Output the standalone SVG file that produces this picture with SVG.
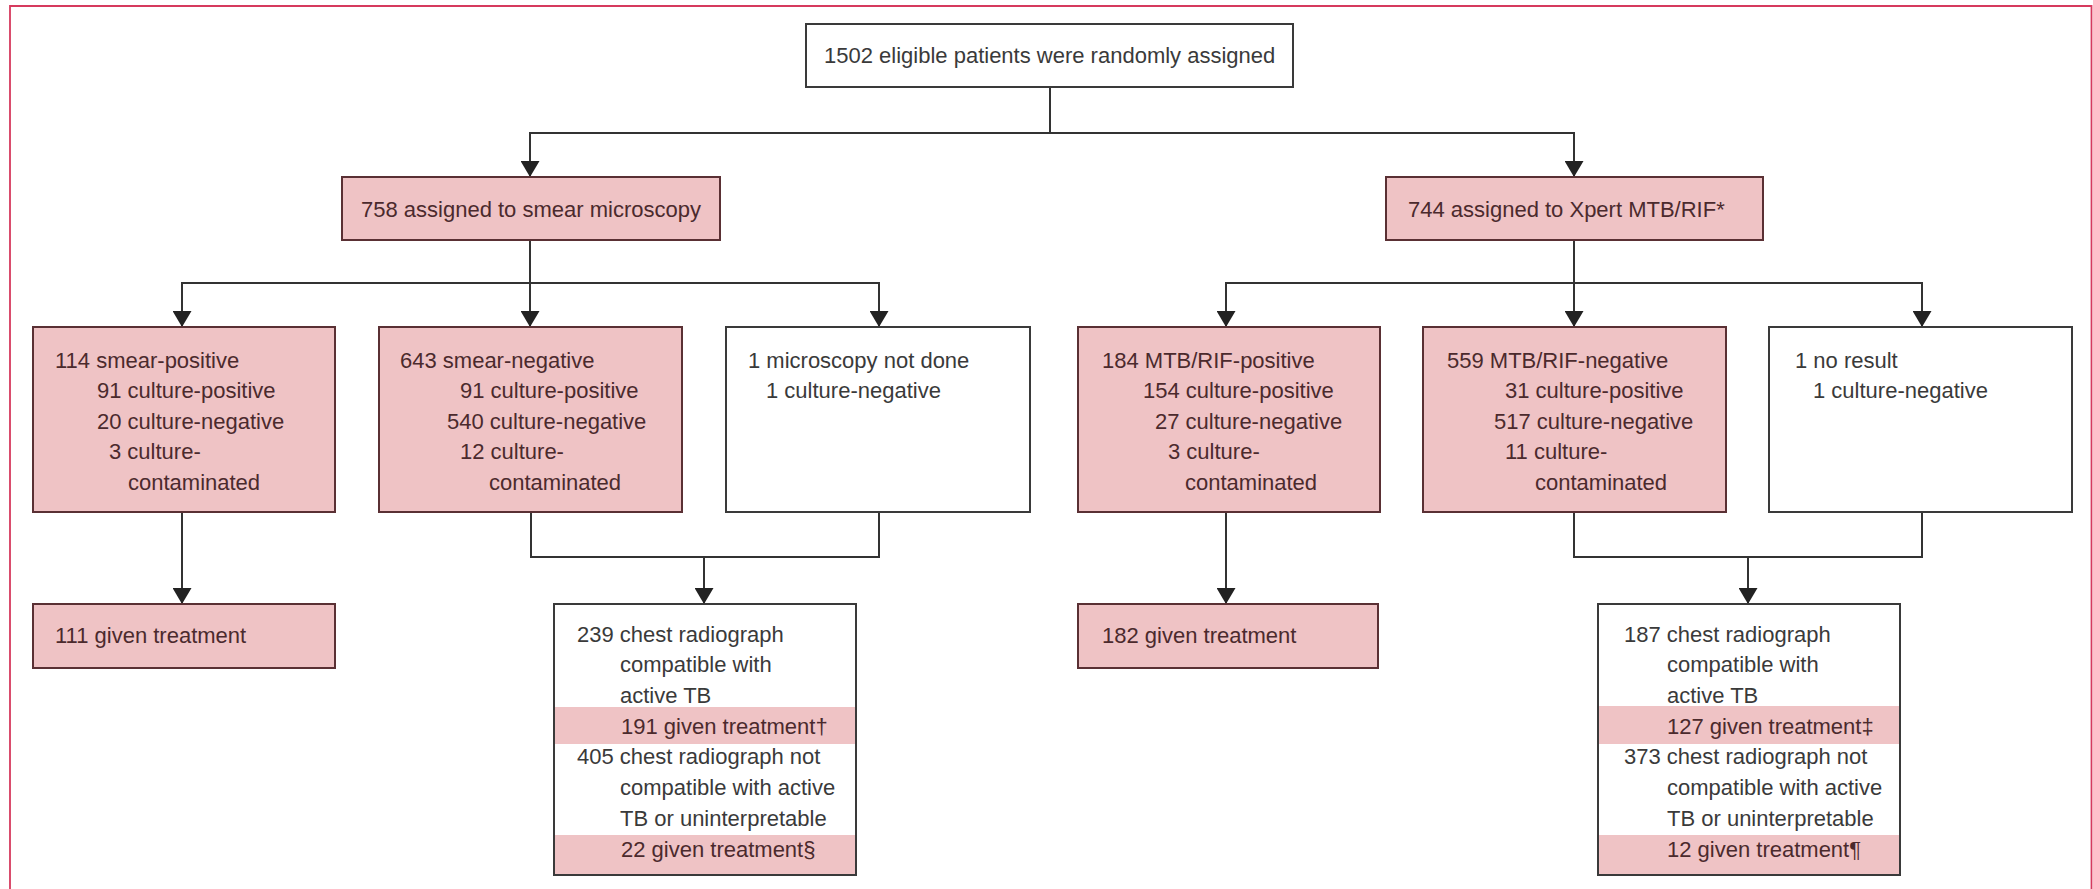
<svg xmlns="http://www.w3.org/2000/svg" width="2093" height="889" viewBox="0 0 2093 889">
<style>
  .frame { fill: none; stroke: #d63a5e; stroke-width: 1.8; }
  .box-w { fill: #ffffff; stroke: #3a3a3a; stroke-width: 2; }
  .box-p { fill: #efc3c5; stroke: #5a3034; stroke-width: 2; }
  .band { fill: #efc3c5; }
  .conn path { fill: none; stroke: #333333; stroke-width: 2; }
  text { font-family: "Liberation Sans", Arial, sans-serif; font-size: 22px; }
  .tw { fill: #3a3a3a; }
  .tp { fill: #4b2a2d; }
</style>
<defs>
  <marker id="arrow" viewBox="0 0 16 19" refX="16" refY="9.5" markerWidth="16" markerHeight="19" markerUnits="userSpaceOnUse" orient="auto">
    <path d="M0,0 L16,9.5 L0,19 z" fill="#222222"/>
  </marker>
</defs>
<rect width="2093" height="889" fill="#ffffff"/>
<path class="frame" d="M10,900 V6 H2091.5 V900"/>

<g id="connectors" class="conn">
  <path d="M1050,87 V133"/>
  <path d="M1050,133 H530 V177" marker-end="url(#arrow)"/>
  <path d="M1050,133 H1574 V177" marker-end="url(#arrow)"/>
  <path d="M530,240 V327" marker-end="url(#arrow)"/>
  <path d="M530,283 H182 V327" marker-end="url(#arrow)"/>
  <path d="M530,283 H879 V327" marker-end="url(#arrow)"/>
  <path d="M1574,240 V327" marker-end="url(#arrow)"/>
  <path d="M1574,283 H1226 V327" marker-end="url(#arrow)"/>
  <path d="M1574,283 H1922 V327" marker-end="url(#arrow)"/>
  <path d="M182,512 V604" marker-end="url(#arrow)"/>
  <path d="M1226,512 V604" marker-end="url(#arrow)"/>
  <path d="M531,512 V557 H879 V512"/>
  <path d="M704,557 V604" marker-end="url(#arrow)"/>
  <path d="M1574,512 V557 H1922 V512"/>
  <path d="M1748,557 V604" marker-end="url(#arrow)"/>
</g>

<g id="node-randomised">
  <rect class="box-w" x="806" y="24" width="487" height="63"/>
  <text class="tw" x="824" y="63">1502 eligible patients were randomly assigned</text>
</g>

<g id="node-smear">
  <rect class="box-p" x="342" y="177" width="378" height="63"/>
  <text class="tp" x="361" y="217">758 assigned to smear microscopy</text>
</g>

<g id="node-xpert">
  <rect class="box-p" x="1386" y="177" width="377" height="63"/>
  <text class="tp" x="1408" y="217">744 assigned to Xpert MTB/RIF*</text>
</g>

<g id="node-smear-positive">
  <rect class="box-p" x="33" y="327" width="302" height="185"/>
  <text class="tp" x="55" y="368">114 smear-positive</text>
  <text class="tp" x="97" y="398">91 culture-positive</text>
  <text class="tp" x="97" y="429">20 culture-negative</text>
  <text class="tp" x="109" y="459">3 culture-</text>
  <text class="tp" x="128" y="490">contaminated</text>
</g>

<g id="node-smear-negative">
  <rect class="box-p" x="379" y="327" width="303" height="185"/>
  <text class="tp" x="400" y="368">643 smear-negative</text>
  <text class="tp" x="460" y="398">91 culture-positive</text>
  <text class="tp" x="447" y="429">540 culture-negative</text>
  <text class="tp" x="460" y="459">12 culture-</text>
  <text class="tp" x="489" y="490">contaminated</text>
</g>

<g id="node-microscopy-not-done">
  <rect class="box-w" x="726" y="327" width="304" height="185"/>
  <text class="tw" x="748" y="368">1 microscopy not done</text>
  <text class="tw" x="766" y="398">1 culture-negative</text>
</g>

<g id="node-mtb-positive">
  <rect class="box-p" x="1078" y="327" width="302" height="185"/>
  <text class="tp" x="1102" y="368">184 MTB/RIF-positive</text>
  <text class="tp" x="1143" y="398">154 culture-positive</text>
  <text class="tp" x="1155" y="429">27 culture-negative</text>
  <text class="tp" x="1168" y="459">3 culture-</text>
  <text class="tp" x="1185" y="490">contaminated</text>
</g>

<g id="node-mtb-negative">
  <rect class="box-p" x="1423" y="327" width="303" height="185"/>
  <text class="tp" x="1447" y="368">559 MTB/RIF-negative</text>
  <text class="tp" x="1505" y="398">31 culture-positive</text>
  <text class="tp" x="1494" y="429">517 culture-negative</text>
  <text class="tp" x="1505" y="459">11 culture-</text>
  <text class="tp" x="1535" y="490">contaminated</text>
</g>

<g id="node-no-result">
  <rect class="box-w" x="1769" y="327" width="303" height="185"/>
  <text class="tw" x="1795" y="368">1 no result</text>
  <text class="tw" x="1813" y="398">1 culture-negative</text>
</g>

<g id="node-treated-111">
  <rect class="box-p" x="33" y="604" width="302" height="64"/>
  <text class="tp" x="55" y="643">111 given treatment</text>
</g>

<g id="node-cxr-smear">
  <rect class="band" x="554" y="707" width="302" height="37"/>
  <rect class="band" x="554" y="835" width="302" height="40"/>
  <rect class="box-w" x="554" y="604" width="302" height="271" fill="none" style="fill:none"/>
  <text class="tw" x="577" y="642">239 chest radiograph</text>
  <text class="tw" x="620" y="672">compatible with</text>
  <text class="tw" x="620" y="703">active TB</text>
  <text class="tp" x="621" y="734">191 given treatment†</text>
  <text class="tw" x="577" y="764">405 chest radiograph not</text>
  <text class="tw" x="620" y="795">compatible with active</text>
  <text class="tw" x="620" y="826">TB or uninterpretable</text>
  <text class="tp" x="621" y="857">22 given treatment§</text>
</g>

<g id="node-treated-182">
  <rect class="box-p" x="1078" y="604" width="300" height="64"/>
  <text class="tp" x="1102" y="643">182 given treatment</text>
</g>

<g id="node-cxr-xpert">
  <rect class="band" x="1598" y="706" width="302" height="38"/>
  <rect class="band" x="1598" y="835" width="302" height="40"/>
  <rect class="box-w" x="1598" y="604" width="302" height="271" style="fill:none"/>
  <text class="tw" x="1624" y="642">187 chest radiograph</text>
  <text class="tw" x="1667" y="672">compatible with</text>
  <text class="tw" x="1667" y="703">active TB</text>
  <text class="tp" x="1667" y="734">127 given treatment‡</text>
  <text class="tw" x="1624" y="764">373 chest radiograph not</text>
  <text class="tw" x="1667" y="795">compatible with active</text>
  <text class="tw" x="1667" y="826">TB or uninterpretable</text>
  <text class="tp" x="1667" y="857">12 given treatment¶</text>
</g>
</svg>
